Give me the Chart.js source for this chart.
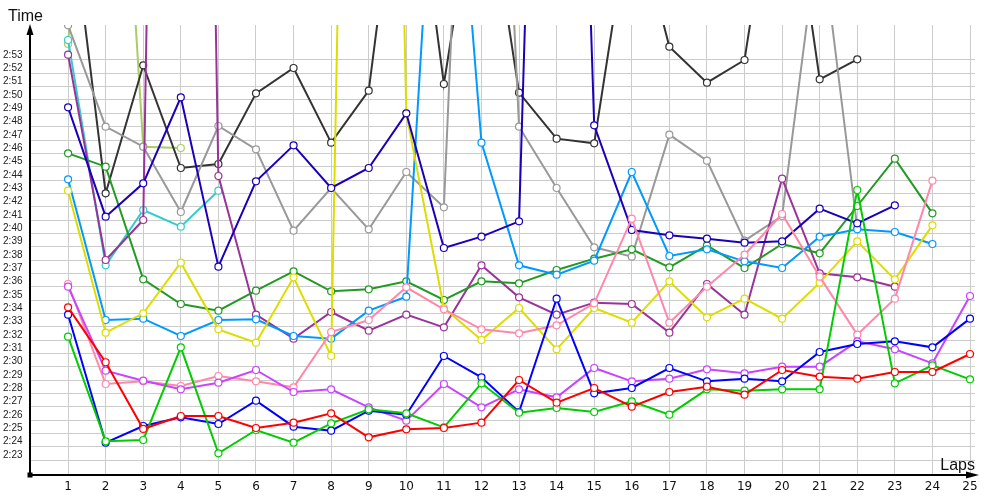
<!DOCTYPE html>
<html><head><meta charset="utf-8">
<script src="https://cdn.jsdelivr.net/npm/chart.js@4/dist/chart.umd.min.js"></script>
<style>html,body{margin:0;padding:0;background:#fff}#c{display:block}</style>
</head><body>
<canvas id="c" width="1000" height="500"></canvas>
<script>
// Lap numbers (x axis)
const laps = [1,2,3,4,5,6,7,8,9,10,11,12,13,14,15,16,17,18,19,20,21,22,23,24,25];
// Y tick values in seconds (2:23 .. 2:53)
const yTickSeconds = [143,144,145,146,147,148,149,150,151,152,153,154,155,156,157,158,159,160,161,162,163,164,165,166,167,168,169,170,171,172,173];

// Lap times in seconds, one array per car (null = no lap)
const redTimes      = [154.45,150.33,145.33,146.3,146.3,145.4,145.8,146.5,144.7,145.3,145.4,145.8,149.0,147.3,148.4,147.0,148.1,148.5,147.9,149.75,149.25,149.1,149.6,149.6,150.95];
const greenTimes    = [152.25,144.4,144.5,151.45,143.5,145.25,144.3,145.75,146.8,146.5,145.45,148.75,146.55,146.9,146.6,147.4,146.4,148.3,148.2,148.3,148.3,163.25,148.75,150.1,149.05];
const blueTimes     = [153.9,144.3,145.55,146.2,145.7,147.45,145.5,145.2,146.7,146.4,150.8,149.2,146.6,155.1,148.0,148.4,149.9,148.9,149.1,148.9,151.1,151.7,151.9,151.45,153.6];
const violetTimes   = [156.0,149.7,148.95,148.3,148.8,149.75,148.1,148.3,146.95,145.95,148.7,146.95,148.3,147.7,149.9,148.9,149.1,149.8,149.5,150.0,150.0,151.9,151.3,150.25,155.3];
const pinkTimes     = [156.2,148.7,148.9,148.55,149.3,148.9,148.45,152.6,153.5,155.95,154.3,152.8,152.5,153.1,154.75,161.1,153.3,156.0,158.4,161.45,156.75,152.4,155.1,163.95,null];
const darkBlueTimes = [169.45,161.25,163.75,170.2,157.5,163.9,166.6,163.4,164.9,169.0,158.9,159.75,160.9,254.8,168.1,160.25,159.85,159.6,159.3,159.4,161.85,160.75,162.1,null,null];
const yellowTimes   = [163.2,152.55,154.0,157.8,152.8,151.8,156.7,150.8,300,169.0,154.4,152.0,154.4,151.3,154.4,153.3,156.4,153.7,155.1,153.6,156.3,159.4,156.55,160.6,null];
const lightBlueTimes= [164.05,153.5,153.6,152.3,153.5,153.55,152.3,152.1,154.2,155.25,202,166.8,157.6,156.9,157.95,164.6,158.3,158.8,157.9,157.4,159.75,160.3,160.1,159.2,null];
const darkGreenTimes= [166.0,165.0,156.55,154.7,154.2,155.7,157.15,155.65,155.8,156.4,155.0,156.4,156.25,157.25,158.1,158.8,157.45,159.1,157.4,159.2,158.5,162.05,165.6,161.5,null];
const purpleTimes   = [173.4,158.0,161.0,327,164.3,153.9,152.1,154.1,152.7,153.9,152.95,157.6,155.2,153.9,154.8,154.7,152.55,156.2,153.9,164.1,157.0,156.7,156.0,null,null];
const grayTimes     = [175.6,168.0,166.5,161.6,168.05,166.3,160.2,163.4,160.3,164.6,161.95,227.8,168.0,163.4,158.95,158.25,167.4,165.45,159.45,161.3,183.2,160.4,null,null,null];
const darkGrayTimes = [186.0,163.0,172.6,164.9,165.2,170.5,172.4,166.8,170.7,192.7,171.2,189.0,170.55,167.1,166.75,184.9,174.0,171.3,173.0,191.1,171.55,173.05,null,null,null];
const cyanTimes     = [174.5,157.6,161.75,160.5,163.2];
const oliveTimes    = [174.2,212,166.5,166.4];

const series = [
  ['red', redTimes, '#ff0000'],
  ['green', greenTimes, '#00cc00'],
  ['blue', blueTimes, '#0000ff'],
  ['violet', violetTimes, '#c844ff'],
  ['pink', pinkTimes, '#ff88aa'],
  ['darkblue', darkBlueTimes, '#1a00bb'],
  ['yellow', yellowTimes, '#dddd00'],
  ['lightblue', lightBlueTimes, '#0099ff'],
  ['darkgreen', darkGreenTimes, '#229922'],
  ['purple', purpleTimes, '#993399'],
  ['gray', grayTimes, '#999999'],
  ['darkgray', darkGrayTimes, '#333333'],
  ['cyan', cyanTimes, '#33cccc'],
  ['olive', oliveTimes, '#aacc66']
];

function fmt(v){ const m=Math.floor(v/60), s=Math.round(v-m*60); return m+':'+String(s).padStart(2,'0'); }

const datasets = series.map(([name, vals, col]) => ({
  label: name,
  data: vals.map((v,i) => ({x: laps[i], y: v})),
  borderColor: col,
  backgroundColor: '#ffffff',
  pointBackgroundColor: '#ffffff',
  pointBorderColor: col,
  pointBorderWidth: 1.2,
  pointRadius: 3.5,
  borderWidth: 2,
  tension: 0,
  spanGaps: false,
  clip: 0
}));

const axesPlugin = {
  id: 'axesPlugin',
  afterDraw(chart){
    const ctx = chart.ctx;
    const a = chart.chartArea;
    ctx.save();
    ctx.strokeStyle = '#000';
    ctx.fillStyle = '#000';
    ctx.lineWidth = 2;
    // y axis
    ctx.beginPath(); ctx.moveTo(30, 475); ctx.lineTo(30, 32); ctx.stroke();
    ctx.beginPath(); ctx.moveTo(30, 24); ctx.lineTo(26.5, 35); ctx.lineTo(33.5, 35); ctx.closePath(); ctx.fill();
    // x axis
    ctx.beginPath(); ctx.moveTo(30, 475); ctx.lineTo(970, 475); ctx.stroke();
    ctx.beginPath(); ctx.moveTo(979, 475); ctx.lineTo(966, 471.5); ctx.lineTo(966, 478.5); ctx.closePath(); ctx.fill();
    ctx.fillRect(27.5, 472.5, 5, 5);
    ctx.font = '16px "Liberation Sans", Arial, sans-serif';
    ctx.fillStyle = '#111';
    ctx.textBaseline = 'alphabetic';
    ctx.textAlign = 'left';
    ctx.fillText('Time', 8, 21);
    ctx.textAlign = 'right';
    ctx.fillText('Laps', 975, 470);
    ctx.restore();
  }
};

new Chart(document.getElementById('c'), {
  type: 'line',
  data: { datasets },
  options: {
    responsive: false,
    animation: false,
    events: [],
    layout: { padding: { left: 0, right: 25, top: 25, bottom: 0 } },
    plugins: { legend: { display: false }, tooltip: { enabled: false } },
    scales: {
      x: {
        type: 'linear', min: 0, max: 25.133,
        afterBuildTicks: s => { s.ticks = laps.map(v => ({value: v})); },
        afterFit: s => { s.height = 25; },
        grid: { color: '#cccccc', lineWidth: 1, drawTicks: false },
        border: { display: false },
        ticks: { padding: 5, color: '#111', font: { family: '"DejaVu Sans", sans-serif', size: 12 }, callback: v => String(v), maxRotation: 0, autoSkip: false }
      },
      y: {
        type: 'linear', min: 141.875, max: 175.625,
        afterBuildTicks: s => { s.ticks = yTickSeconds.map(v => ({value: v})); },
        afterFit: s => { s.width = 30.5; },
        grid: { color: '#cccccc', lineWidth: 1, drawTicks: false },
        border: { display: false },
        ticks: { padding: 8, labelOffset: -5, color: '#222', font: { family: '"Liberation Sans", Arial, sans-serif', size: 10 }, callback: v => fmt(v), autoSkip: false }
      }
    }
  },
  plugins: [axesPlugin]
});
</script>
</body></html>
